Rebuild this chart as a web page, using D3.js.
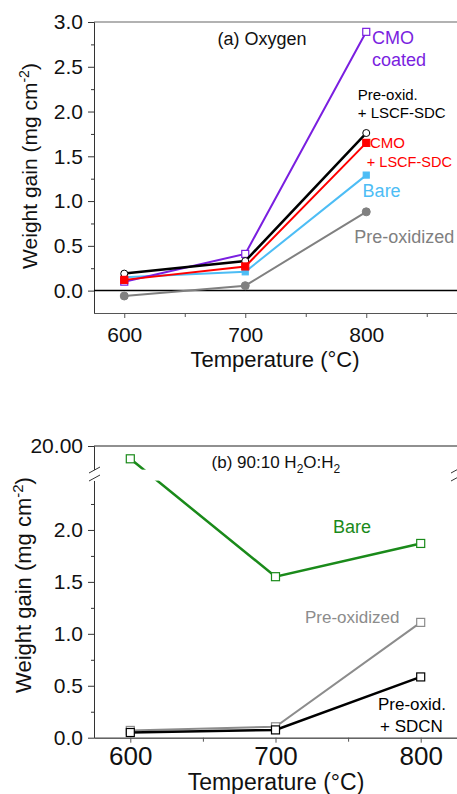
<!DOCTYPE html>
<html>
<head>
  <meta charset="UTF-8">
  <style>
    body { margin: 0; background: #fff; }
    svg { display: block; font-family: "Liberation Sans", Arial, sans-serif; }
  </style>
</head>
<body>
<svg></svg>
<script src="https://d3js.org/d3.v7.min.js"></script>
<script>

let width = 457, height = 794;

// ---- data ----
const temps = [600, 700, 800];

// (a) oxygen, mg cm-2
const oxyCmoCoated = [0.10, 0.41, 2.89];
const oxyPreoxLscf = [0.19, 0.33, 1.76];
const oxyCmoLscf   = [0.12, 0.27, 1.65];
const oxyBare      = [0.15, 0.21, 1.29];
const oxyPreox     = [-0.06, 0.055, 0.88];

// (b) 90:10 H2O:H2, mg cm-2
const stmBare      = [19.2, 1.55, 1.87];
const stmPreox     = [0.07, 0.105, 1.11];
const stmPreoxSdcn = [0.05, 0.075, 0.585];

const yTicksA = [0, 0.5, 1.0, 1.5, 2.0, 2.5, 3.0];
const yMinorA = [0.25, 0.75, 1.25, 1.75, 2.25, 2.75];
const xTicksA = [600, 700, 800];
const xMinorA = [650, 750, 850];

const yTicksB = [0, 0.5, 1.0, 1.5, 2.0, 20];
const yMinorB = [0.25, 0.75, 1.25, 1.75, 2.25];
const xTicksB = [600, 700, 800];
const xMinorB = [650, 750];

let svg = d3.select("svg")
    .attr("width", width)
    .attr("height", height)
    .attr("viewBox", "0 0 " + width + " " + height);

// scales
const xA = d3.scaleLinear().domain([575, 875]).range([94, 457]);
const yA = d3.scaleLinear().domain([-0.25, 3.0]).range([313, 22]);
const xB = d3.scaleLinear().domain([575, 825]).range([94, 457]);
// broken axis: lower part 0-2.5, upper part 18.5-20
const yB = d3.scaleLinear().domain([0, 2.5, 18.5, 20]).range([737.7, 478, 470, 446]);

function styleAxis(g, size, color) {
    g.selectAll("text").style("font-size", size + "px").attr("fill", "#111");
    g.selectAll("line").attr("stroke", color);
    g.select(".domain").attr("stroke", color);
}

function drawSeries(g, x, y, s) {
    let pts = temps.map((t, i) => [t, s.values[i]]);
    g.append("path")
        .datum(pts)
        .attr("fill", "none")
        .attr("stroke", s.color)
        .attr("stroke-width", s.lw)
        .attr("d", d3.line().x(d => x(d[0])).y(d => y(d[1])));
    if (s.marker == "circle") {
        g.selectAll(null).data(pts).enter().append("circle")
            .attr("cx", d => x(d[0])).attr("cy", d => y(d[1]))
            .attr("r", s.size / 2)
            .attr("fill", s.filled ? s.color : "#fff")
            .attr("stroke", s.color).attr("stroke-width", 1);
    } else {
        g.selectAll(null).data(pts).enter().append("rect")
            .attr("x", d => x(d[0]) - s.size / 2).attr("y", d => y(d[1]) - s.size / 2)
            .attr("width", s.size).attr("height", s.size)
            .attr("fill", s.filled ? s.color : "#fff")
            .attr("stroke", s.color).attr("stroke-width", 1.2);
    }
}

function label(g, x, y, lines, size, color, gap) {
    lines.forEach((l, i) => {
        g.append("text")
            .attr("x", x).attr("y", y + i * gap)
            .style("font-size", size + "px")
            .attr("fill", color)
            .text(l);
    });
}

// ================= panel (a) =================
let ga = svg.append("g");

// top frame line
ga.append("line").attr("x1", 94).attr("x2", 457).attr("y1", yA(3)).attr("y2", yA(3))
    .attr("stroke", "#666").attr("stroke-width", 1.2);

ga.append("g").attr("transform", "translate(94,0)")
    .call(d3.axisLeft(yA).tickValues(yMinorA).tickSize(3).tickFormat("").tickSizeOuter(0))
    .call(g => styleAxis(g, 21, "#333"));
ga.append("g").attr("transform", "translate(94,0)")
    .call(d3.axisLeft(yA).tickValues(yTicksA).tickSize(6).tickPadding(5)
        .tickFormat(d3.format(".1f")).tickSizeOuter(0))
    .call(g => styleAxis(g, 21, "#333"));

ga.append("g").attr("transform", "translate(0," + yA(-0.25) + ")")
    .call(d3.axisBottom(xA).tickValues(xMinorA).tickSize(4).tickFormat("").tickSizeOuter(0))
    .call(g => styleAxis(g, 21, "#555"));
ga.append("g").attr("transform", "translate(0," + yA(-0.25) + ")")
    .call(d3.axisBottom(xA).tickValues(xTicksA).tickSize(5).tickPadding(9).tickSizeOuter(0))
    .call(g => styleAxis(g, 21, "#555"));

// zero line
ga.append("line").attr("x1", 94).attr("x2", 457).attr("y1", yA(0)).attr("y2", yA(0))
    .attr("stroke", "#000").attr("stroke-width", 1.5);

const oxySeries = [
    {values: oxyPreox,     color: "#808080", lw: 2,   marker: "circle", filled: true,  size: 8},
    {values: oxyBare,      color: "#4dbdf5", lw: 2,   marker: "square", filled: true,  size: 6},
    {values: oxyCmoCoated, color: "#7a1fe0", lw: 2,   marker: "square", filled: false, size: 7},
    {values: oxyPreoxLscf, color: "#000000", lw: 2.5, marker: "circle", filled: false, size: 7},
    {values: oxyCmoLscf,   color: "#ff0000", lw: 2,   marker: "square", filled: true,  size: 7}
];
oxySeries.forEach(s => drawSeries(ga, xA, yA, s));

label(ga, xA(677), yA(2.74), ["(a) Oxygen"], 18, "#111", 0);
label(ga, xA(804.7), yA(2.756), ["CMO", "coated"], 18, "#7a1fe0", 22);
label(ga, xA(793), yA(2.13), ["Pre-oxid.", "+ LSCF-SDC"], 15, "#000", 18);
label(ga, xA(803), yA(1.59), ["CMO"], 15, "#ff0000", 0);
label(ga, xA(800.5), yA(1.38), ["+ LSCF-SDC"], 14.5, "#ff0000", 0);
label(ga, xA(797), yA(1.046), ["Bare"], 18, "#4dbdf5", 0);
label(ga, xA(790), yA(0.532), ["Pre-oxidized"], 18, "#808080", 0);

// axis titles
ga.append("text")
    .attr("x", 275).attr("y", 367)
    .attr("text-anchor", "middle")
    .style("font-size", "22px").attr("fill", "#111")
    .text("Temperature (°C)");

let ytA = ga.append("text")
    .attr("transform", "translate(37,166) rotate(-90)")
    .attr("text-anchor", "middle")
    .style("font-size", "21px").attr("fill", "#111");
ytA.append("tspan").text("Weight gain (mg cm");
ytA.append("tspan").attr("dy", -8).style("font-size", "14px").text("-2");
ytA.append("tspan").attr("dy", 8).text(")");

// ================= panel (b) =================
let gb = svg.append("g");

gb.append("line").attr("x1", 94).attr("x2", 457).attr("y1", yB(20)).attr("y2", yB(20))
    .attr("stroke", "#222").attr("stroke-width", 1.2);

gb.append("g").attr("transform", "translate(94,0)")
    .call(d3.axisLeft(yB).tickValues(yMinorB).tickSize(3).tickFormat("").tickSizeOuter(0))
    .call(g => styleAxis(g, 21, "#333"));
gb.append("g").attr("transform", "translate(94,0)")
    .call(d3.axisLeft(yB).tickValues(yTicksB).tickSize(6).tickPadding(5)
        .tickFormat(d => d == 20 ? "20.00" : d3.format(".1f")(d)).tickSizeOuter(0))
    .call(g => styleAxis(g, 21, "#333"));

gb.append("g").attr("transform", "translate(0," + yB(0) + ")")
    .call(d3.axisBottom(xB).tickValues(xMinorB).tickSize(4).tickFormat("").tickSizeOuter(0))
    .call(g => styleAxis(g, 26, "#555"));
gb.append("g").attr("transform", "translate(0," + yB(0) + ")")
    .call(d3.axisBottom(xB).tickValues(xTicksB).tickSize(5).tickPadding(4).tickSizeOuter(0))
    .call(g => styleAxis(g, 26, "#555"));

const stmSeries = [
    {values: stmBare,      color: "#1a8a1a", lw: 2.5, marker: "square", filled: false, size: 8},
    {values: stmPreox,     color: "#8c8c8c", lw: 2,   marker: "square", filled: false, size: 8},
    {values: stmPreoxSdcn, color: "#000000", lw: 2.5, marker: "square", filled: false, size: 8}
];
stmSeries.forEach(s => drawSeries(gb, xB, yB, s));

// axis break: white band + slashes
let yb0 = yB(18.5), yb1 = yB(2.5);
gb.append("path")
    .attr("d", "M88," + (yb1 + 3) + "L457," + (yb1 + 3 - 2) + "L457," + (yb0 - 2) + "L88," + yb0 + "Z")
    .attr("fill", "#fff");
[[89, 100], [451, 462]].forEach(p => {
    [yb0, yb1].forEach(yy => {
        gb.append("line")
            .attr("x1", p[0]).attr("x2", p[1])
            .attr("y1", yy + 3).attr("y2", yy - 3)
            .attr("stroke", "#333").attr("stroke-width", 1);
    });
});

let tb = gb.append("text")
    .attr("x", xB(656)).attr("y", yB(20) + 22)
    .style("font-size", "17px").attr("fill", "#111");
tb.append("tspan").text("(b) 90:10 H");
tb.append("tspan").attr("dy", 5).style("font-size", "12px").text("2");
tb.append("tspan").attr("dy", -5).text("O:H");
tb.append("tspan").attr("dy", 5).style("font-size", "12px").text("2");

label(gb, xB(739.6), yB(1.97), ["Bare"], 18, "#1a8a1a", 0);
label(gb, xB(720.3), yB(1.10), ["Pre-oxidized"], 17, "#8c8c8c", 0);
label(gb, xB(770.6), yB(0.266), ["Pre-oxid."], 17, "#000", 0);
label(gb, xB(772), yB(0.055), ["+ SDCN"], 17, "#000", 0);

gb.append("text")
    .attr("x", 276).attr("y", 790)
    .attr("text-anchor", "middle")
    .style("font-size", "23px").attr("fill", "#111")
    .text("Temperature (°C)");

let ytB = gb.append("text")
    .attr("transform", "translate(31,585) rotate(-90)")
    .attr("text-anchor", "middle")
    .style("font-size", "22px").attr("fill", "#111");
ytB.append("tspan").text("Weight gain (mg cm");
ytB.append("tspan").attr("dy", -8).style("font-size", "15px").text("-2");
ytB.append("tspan").attr("dy", 8).text(")");

</script>
</body>
</html>
